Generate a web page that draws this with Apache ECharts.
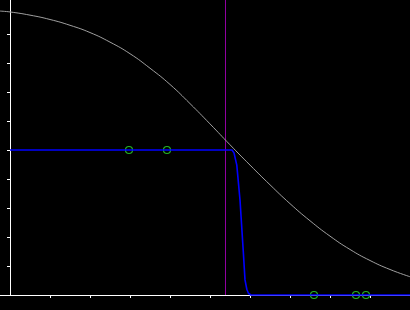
<!DOCTYPE html>
<html>
<head>
<meta charset="utf-8">
<script src="https://cdn.jsdelivr.net/npm/echarts@6/dist/echarts.min.js"></script>
<style>
html,body{margin:0;padding:0;background:#000;}
#c{width:410px;height:310px;}
</style>
</head>
<body>
<div id="c"></div>
<script>
// Gray smooth curve (x, y)
var grayX = [-0.25, 0, 0.5, 1, 1.5, 2, 2.5, 3, 3.5, 4, 4.5, 5, 5.5, 6, 6.5, 7, 7.5, 8, 8.5, 9, 9.5, 10];
var grayY = [0.979, 0.976, 0.965, 0.950, 0.930, 0.905, 0.872, 0.832, 0.782, 0.726, 0.660, 0.590, 0.518, 0.448, 0.380, 0.315, 0.256, 0.203, 0.157, 0.119, 0.088, 0.063];
// Blue steep step curve
var blueX = [0, 5.55, 5.6, 5.67, 5.75, 5.83, 5.875, 5.92, 5.96, 6.02, 10];
var blueY = [0.5, 0.5, 0.49, 0.448, 0.328, 0.155, 0.052, 0.02, 0.006, 0, 0];
// Green marker points
var ptsX = [2.975, 3.925, 7.6, 8.65, 8.9];
var ptsY = [0.5, 0.5, 0, 0, 0];
// Vertical reference line
var vlineX = 5.3875;
var yTop = 1.0172;
var xTicks = [1, 2, 3, 4, 5, 6, 7, 8, 9, 10];
var yTicks = [0.1, 0.2, 0.3, 0.4, 0.5, 0.6, 0.7, 0.8, 0.9];

function zip(a, b) { return a.map(function (v, i) { return [v, b[i]]; }); }

var chart = echarts.init(document.getElementById('c'));
chart.setOption({
  backgroundColor: '#000',
  animation: false,
  grid: { left: 0, right: 0, top: 0, bottom: 15 },
  xAxis: {
    type: 'value', min: -0.25, max: 10,
    axisLine: { show: true, onZero: true, lineStyle: { color: '#fff', width: 1 } },
    axisTick: { show: true, length: 3, customValues: xTicks, lineStyle: { color: '#fff', width: 1 } },
    axisLabel: { show: false },
    splitLine: { show: false }
  },
  yAxis: {
    type: 'value', min: 0, max: yTop,
    axisLine: { show: true, onZero: true, lineStyle: { color: '#fff', width: 1 } },
    axisTick: { show: true, length: 3, customValues: yTicks, lineStyle: { color: '#fff', width: 1 } },
    axisLabel: { show: false },
    splitLine: { show: false }
  },
  series: [
    {
      type: 'line', data: [[vlineX, 0], [vlineX, yTop]], showSymbol: false,
      lineStyle: { color: '#9000a0', width: 1 }, silent: true
    },
    {
      type: 'line', data: zip(grayX, grayY), smooth: true, showSymbol: false, clip: false,
      lineStyle: { color: '#a0a0a0', width: 1 }
    },
    {
      type: 'line', data: zip(blueX, blueY), showSymbol: false, clip: false,
      lineStyle: { color: '#0000ff', width: 1.6 }
    },
    {
      type: 'scatter', data: zip(ptsX, ptsY), symbol: 'circle', symbolSize: 7, clip: false,
      itemStyle: { color: 'rgba(0,0,0,0)', borderColor: '#2ee02e', borderWidth: 1.2 }
    }
  ]
});
</script>
</body>
</html>
